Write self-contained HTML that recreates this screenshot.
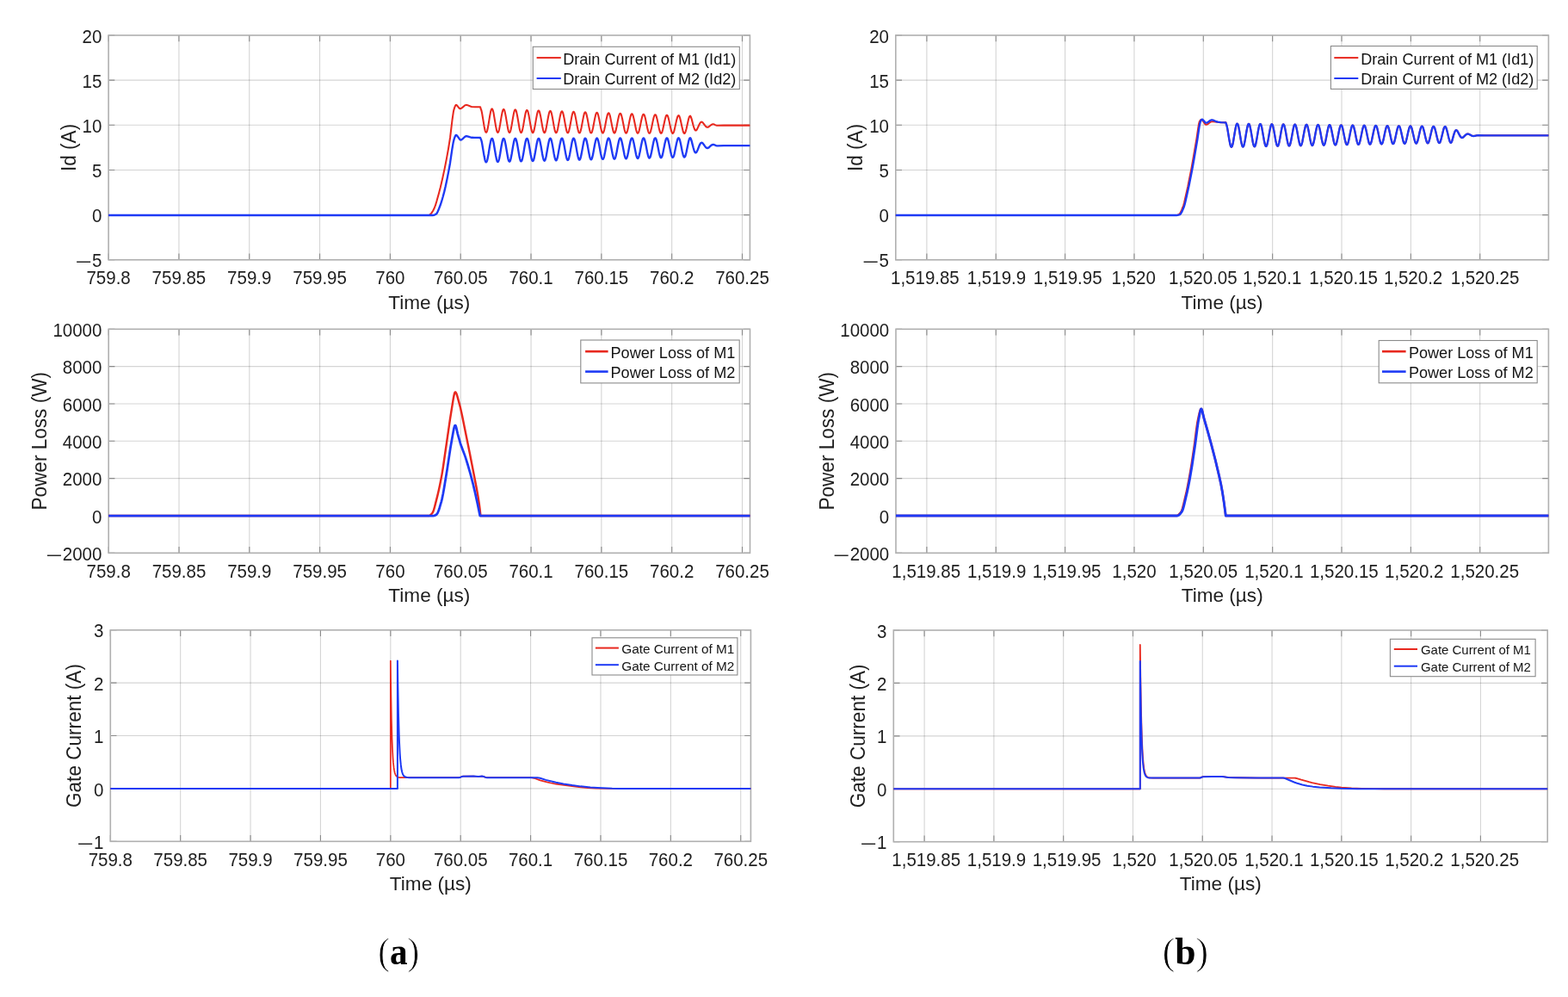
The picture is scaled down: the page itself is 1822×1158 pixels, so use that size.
<!DOCTYPE html>
<html><head><meta charset="utf-8"><title>Figure</title><style>html,body{margin:0;padding:0;background:#fff;width:1822px;height:1158px;overflow:hidden}svg{display:block}</style></head><body>
<svg width="1822" height="1158" viewBox="0 0 1822 1158" font-family='"Liberation Sans", Arial, Helvetica, sans-serif' fill="#1e1e1e">
<rect width="1822" height="1158" fill="#fff"/>
<path d="M207.92,41V301.8 M289.74,41V301.8 M371.56,41V301.8 M453.38,41V301.8 M535.2,41V301.8 M617.02,41V301.8 M698.84,41V301.8 M780.66,41V301.8 M862.48,41V301.8" stroke="#000" stroke-opacity="0.17" stroke-width="1.1" fill="none"/>
<path d="M126.1,93.16H871.4 M126.1,145.32H871.4 M126.1,197.48H871.4 M126.1,249.64H871.4" stroke="#000" stroke-opacity="0.17" stroke-width="1.1" fill="none"/>
<path d="M126.1,301.8v-7.2M126.1,41v7.2 M207.92,301.8v-7.2M207.92,41v7.2 M289.74,301.8v-7.2M289.74,41v7.2 M371.56,301.8v-7.2M371.56,41v7.2 M453.38,301.8v-7.2M453.38,41v7.2 M535.2,301.8v-7.2M535.2,41v7.2 M617.02,301.8v-7.2M617.02,41v7.2 M698.84,301.8v-7.2M698.84,41v7.2 M780.66,301.8v-7.2M780.66,41v7.2 M862.48,301.8v-7.2M862.48,41v7.2 M126.1,41h7.2M871.4,41h-7.2 M126.1,93.16h7.2M871.4,93.16h-7.2 M126.1,145.32h7.2M871.4,145.32h-7.2 M126.1,197.48h7.2M871.4,197.48h-7.2 M126.1,249.64h7.2M871.4,249.64h-7.2 M126.1,301.8h7.2M871.4,301.8h-7.2" stroke="#8a8a8a" stroke-width="1.1" fill="none"/>
<rect x="126.1" y="41" width="745.3" height="260.8" stroke="#b0b0b0" stroke-width="1.6" fill="none"/>
<text transform="translate(126.1,330.2) scale(1,1.05)" text-anchor="middle" font-size="20.5">759.8</text>
<text transform="translate(207.92,330.2) scale(1,1.05)" text-anchor="middle" font-size="20.5">759.85</text>
<text transform="translate(289.74,330.2) scale(1,1.05)" text-anchor="middle" font-size="20.5">759.9</text>
<text transform="translate(371.56,330.2) scale(1,1.05)" text-anchor="middle" font-size="20.5">759.95</text>
<text transform="translate(453.38,330.2) scale(1,1.05)" text-anchor="middle" font-size="20.5">760</text>
<text transform="translate(535.2,330.2) scale(1,1.05)" text-anchor="middle" font-size="20.5">760.05</text>
<text transform="translate(617.02,330.2) scale(1,1.05)" text-anchor="middle" font-size="20.5">760.1</text>
<text transform="translate(698.84,330.2) scale(1,1.05)" text-anchor="middle" font-size="20.5">760.15</text>
<text transform="translate(780.66,330.2) scale(1,1.05)" text-anchor="middle" font-size="20.5">760.2</text>
<text transform="translate(862.48,330.2) scale(1,1.05)" text-anchor="middle" font-size="20.5">760.25</text>
<text transform="translate(118.3,49.6) scale(1,1.05)" text-anchor="end" font-size="20.5">20</text>
<text transform="translate(118.3,101.76) scale(1,1.05)" text-anchor="end" font-size="20.5">15</text>
<text transform="translate(118.3,153.92) scale(1,1.05)" text-anchor="end" font-size="20.5">10</text>
<text transform="translate(118.3,206.08) scale(1,1.05)" text-anchor="end" font-size="20.5">5</text>
<text transform="translate(118.3,258.24) scale(1,1.05)" text-anchor="end" font-size="20.5">0</text>
<text transform="translate(118.3,310.4) scale(1,1.05)" text-anchor="end" font-size="20.5">5</text>
<text x="87.4" y="311.3" textLength="19.3" lengthAdjust="spacingAndGlyphs" font-size="20.5">−</text>
<text x="498.75" y="358.85" text-anchor="middle" font-size="22.6">Time (µs)</text>
<text transform="translate(87.6,171.4) rotate(-90) scale(1,1.02)" x="0" y="0" text-anchor="middle" font-size="22.6">Id (A)</text>
<svg x="126.1" y="41.0" width="745.3" height="260.8" viewBox="126.1 41.0 745.3 260.8" overflow="hidden">
<path d="M126.1,250 L497.8,250 498.3,249.89 499.05,249.57 500.05,248.96 501.3,247.66 503.05,244.94 504.8,241.51 506.05,238.13 507.3,234.06 510.05,224.24 511.8,217.45 514.3,206.76 516.8,195.09 519.05,183.65 521.05,172.52 523.05,159.91 525.55,139 526.8,130.31 527.3,127.88 528.3,124.67 529.05,122.8 529.55,122.07 529.8,121.91 530.3,121.98 530.8,122.3 531.55,123.07 533.55,125.58 534.05,125.98 534.55,126.19 535.3,126.11 536.3,125.64 537.3,124.89 539.8,122.73 540.8,122.13 541.55,121.92 542.3,121.93 543.3,122.16 546.55,123.55 548.05,123.97 551.8,124.19 558.1,124.2 558.6,126.28 559.1,127.36 559.6,129.11 560.1,131.44 562.6,146.7 563.6,151.45 564.1,152.95 564.6,153.76 565.1,153.84 565.6,153.18 566.1,151.82 566.6,149.83 567.6,144.42 569.1,135.04 570.1,129.86 570.6,128.04 571.1,126.87 571.6,126.41 572.1,126.68 572.6,127.68 573.1,129.35 573.6,131.59 576.1,146.59 577.1,151.36 577.6,152.91 578.1,153.78 578.6,153.93 579.1,153.35 579.6,152.08 580.1,150.17 581.1,144.93 582.6,135.68 583.6,130.5 584.1,128.65 584.6,127.43 585.1,126.9 585.6,127.1 586.1,128.02 586.6,129.59 587.6,134.37 590.1,149.12 590.6,151.28 591.1,152.87 591.6,153.8 592.1,154.02 592.6,153.52 593.1,152.32 593.6,150.51 594.6,145.42 596.1,136.32 597.1,131.14 597.6,129.26 598.1,127.99 598.6,127.4 599.1,127.53 599.6,128.36 600.1,129.85 601.1,134.46 603.6,149.02 604.1,151.2 604.6,152.82 605.1,153.8 605.6,154.09 606.1,153.67 606.6,152.56 607.1,150.83 608.1,145.9 609.6,136.95 610.6,131.78 611.1,129.87 611.6,128.56 612.1,127.91 612.6,127.96 613.1,128.71 613.6,130.12 614.6,134.57 616.6,146.3 617.6,151.12 618.1,152.78 618.6,153.81 619.1,154.16 619.6,153.81 620.1,152.79 620.6,151.14 621.6,146.37 623.1,137.57 624.1,132.41 624.6,130.48 625.1,129.13 625.6,128.43 626.1,128.41 626.6,129.08 627.1,130.4 628.1,134.69 630.1,146.22 631.1,151.04 631.6,152.73 632.1,153.81 632.6,154.22 633.1,153.95 633.6,153.01 634.1,151.44 634.6,149.35 637.1,135.45 638.1,131.1 638.6,129.7 639.1,128.94 639.6,128.86 640.1,129.45 640.6,130.69 641.1,132.51 642.1,137.47 643.6,146.14 644.6,150.96 645.1,152.67 645.6,153.8 646.1,154.27 646.6,154.07 647.1,153.21 647.6,151.73 648.1,149.72 650.6,136.08 651.6,131.71 652.1,130.28 652.6,129.47 653.1,129.32 653.6,129.84 654.1,131 654.6,132.73 655.6,137.54 657.1,146.07 658.1,150.88 658.6,152.62 659.1,153.79 659.6,154.32 660.1,154.19 660.6,153.41 661.1,152.01 662.1,147.72 664.6,134.3 665.1,132.32 665.6,130.86 666.1,130 666.6,129.79 667.1,130.23 667.6,131.31 668.1,132.96 669.1,137.62 670.6,146 671.6,150.8 672.1,152.57 672.6,153.78 673.1,154.36 673.6,154.3 674.1,153.59 674.6,152.28 675.6,148.14 678.1,134.93 678.6,132.93 679.1,131.44 679.6,130.53 680.1,130.26 680.6,130.63 681.1,131.63 681.6,133.21 682.6,137.71 684.1,145.94 685.1,150.73 685.6,152.51 686.1,153.76 686.6,154.4 687.1,154.4 687.6,153.77 688.1,152.53 689.1,148.55 691.1,137.93 692.1,133.54 692.6,132.02 693.1,131.07 693.6,130.74 694.1,131.04 694.6,131.97 695.1,133.46 696.1,137.81 698.1,148.43 699.1,152.46 699.6,153.74 700.1,154.43 700.6,154.5 701.1,153.94 701.6,152.78 702.1,151.09 703.1,146.5 704.6,138.54 705.6,134.15 706.1,132.61 706.6,131.61 707.1,131.23 707.6,131.46 708.1,132.31 708.6,133.73 709.1,135.63 711.6,148.36 712.6,152.41 713.1,153.72 713.6,154.46 714.1,154.58 714.6,154.09 715.1,153.01 715.6,151.4 716.6,146.96 718.1,139.13 719.1,134.76 719.6,133.19 720.1,132.16 720.6,131.72 721.1,131.89 721.6,132.66 722.1,134 723.1,138.05 725.6,150.52 726.1,152.35 726.6,153.7 727.1,154.48 727.6,154.66 728.1,154.24 728.6,153.24 729.1,151.7 730.1,147.41 731.6,139.73 732.6,135.36 733.1,133.78 733.6,132.71 734.1,132.22 734.6,132.32 735.1,133.03 735.6,134.29 736.6,138.18 739.1,150.46 739.6,152.3 740.1,153.67 740.6,154.5 741.1,154.74 741.6,154.38 742.1,153.45 742.6,151.99 743.6,147.85 745.1,140.31 746.1,135.96 746.6,134.36 747.1,133.26 747.6,132.72 748.1,132.77 748.6,133.4 749.1,134.58 750.1,138.33 752.1,148.2 753.1,152.25 753.6,153.64 754.1,154.51 754.6,154.81 755.1,154.52 755.6,153.66 756.1,152.28 757.1,148.27 758.6,140.89 759.6,136.56 760.1,134.95 760.6,133.81 761.1,133.23 761.6,133.22 762.1,133.78 762.6,134.89 763.6,138.49 765.6,148.16 766.6,152.2 767.1,153.62 767.6,154.52 768.1,154.87 768.6,154.64 769.1,153.85 769.6,152.54 770.1,150.79 772.6,139.17 773.6,135.53 774.1,134.37 774.6,133.74 775.1,133.67 775.6,134.17 776.1,135.21 776.6,136.73 777.6,140.88 779.1,148.13 780.1,152.15 780.6,153.59 781.1,154.53 781.6,154.92 782.1,154.76 782.6,154.04 783.1,152.8 783.6,151.13 786.1,139.76 787.1,136.12 787.6,134.93 788.1,134.26 788.6,134.13 789.1,134.57 789.6,135.54 790.1,136.99 791.1,141 792.6,148.1 793.6,152.11 794.1,153.56 794.6,154.53 795.1,154.97 795.6,154.87 796.1,154.21 796.6,153.05 797.6,149.48 800.1,138.34 800.6,136.7 801.1,135.49 801.6,134.78 802.1,134.6 802.6,135.28 803.1,136.5 803.6,138.07 805.6,145.73 806.6,148.94 807.1,150.1 807.6,150.92 808.1,151.38 808.6,151.47 809.1,151.23 809.6,150.69 810.1,149.89 812.6,144.45 813.6,142.72 814.1,142.14 814.6,141.77 815.1,141.62 815.6,141.69 816.1,141.94 816.6,142.36 817.6,143.56 819.1,145.66 820.1,146.82 821.1,147.56 821.6,147.73 822.1,147.78 822.6,147.7 823.6,147.23 826.1,145.27 827.1,144.63 828.1,144.27 828.6,144.21 829.1,144.22 829.6,144.39 831.1,145.11 832.1,145.48 833.1,145.71 834.1,145.81 841.1,145.57 871.1,145.6" stroke="#e8281e" stroke-width="2.05" fill="none" stroke-linejoin="round" stroke-linecap="round"/>
<path d="M126.1,250 L503,250 504,249.88 505.5,249.33 507,248.45 507.5,247.9 508.25,246.64 509.5,243.81 511.75,238.04 513.25,233.46 514.75,228.29 516.25,222.63 517.75,216.26 519.5,207.95 521.5,197.68 523,189.43 525.5,172.43 526.75,165.16 527.5,162.11 528.5,159.15 529.25,157.46 529.75,156.93 530.25,156.97 531,157.5 531.75,158.42 534,161.68 534.75,162.34 535.25,162.5 536,162.36 536.75,161.95 537.5,161.36 540,159.01 540.75,158.5 541.5,158.23 542.25,158.22 543.25,158.39 546.5,159.46 548,159.78 551.5,159.89 558.1,159.9 558.6,161.27 559.1,162.32 559.6,164.04 560.1,166.33 562.6,181.34 563.6,186.01 564.1,187.48 564.6,188.27 565.1,188.34 565.6,187.67 566.1,186.3 566.6,184.31 567.6,178.92 569.1,169.56 570.1,164.39 570.6,162.57 571.1,161.38 571.6,160.91 572.1,161.16 572.6,162.13 573.1,163.77 573.6,165.98 576.1,180.8 577.1,185.51 577.6,187.04 578.1,187.89 578.6,188.02 579.1,187.43 579.6,186.14 580.1,184.23 581.1,178.98 582.6,169.72 583.6,164.53 584.1,162.66 584.6,161.42 585.1,160.88 585.6,161.06 586.1,161.95 586.6,163.51 587.6,168.24 590.1,182.87 590.6,185.02 591.1,186.59 591.6,187.5 592.1,187.7 592.6,187.19 593.1,185.98 593.6,184.15 594.6,179.03 596.1,169.87 597.1,164.66 597.6,162.76 598.1,161.47 598.6,160.86 599.1,160.97 599.6,161.78 600.1,163.26 601.1,167.84 603.6,182.34 604.1,184.52 604.6,186.13 605.1,187.1 605.6,187.37 606.1,186.93 606.6,185.81 607.1,184.05 608.1,179.07 609.6,170.02 610.6,164.79 611.1,162.86 611.6,161.52 612.1,160.85 612.6,160.88 613.1,161.62 613.6,163.01 614.6,167.45 616.6,179.2 617.6,184.02 618.1,185.67 618.6,186.7 619.1,187.03 619.6,186.67 620.1,185.62 620.6,183.95 621.6,179.11 623.6,167.37 624.6,162.96 625.1,161.57 625.6,160.84 626.1,160.81 626.6,161.46 627.1,162.78 627.6,164.69 628.6,169.82 630.1,178.67 631.1,183.52 631.6,185.21 632.1,186.29 632.6,186.69 633.1,186.4 633.6,185.43 634.1,183.83 634.6,181.69 637.1,167.52 638.1,163.06 638.6,161.63 639.1,160.84 639.6,160.74 640.1,161.32 640.6,162.56 641.1,164.39 642.1,169.39 643.6,178.15 644.6,183.01 645.1,184.74 645.6,185.87 646.1,186.34 646.6,186.12 647.1,185.23 647.6,183.71 648.1,181.64 650.6,167.66 651.6,163.17 652.1,161.69 652.6,160.85 653.1,160.67 653.6,161.18 654.1,162.35 654.6,164.1 655.6,168.97 657.1,177.62 658.1,182.51 658.6,184.28 659.1,185.46 659.6,185.98 660.1,185.84 660.6,185.02 661.1,183.57 662.1,179.15 664.6,165.33 665.1,163.27 665.6,161.76 666.1,160.86 666.6,160.62 667.1,161.06 667.6,162.14 668.1,163.82 669.1,168.56 670.6,177.11 671.6,182.01 672.1,183.81 672.6,185.03 673.1,185.62 673.6,185.54 674.1,184.8 674.6,183.43 675.6,179.14 678.1,165.46 678.6,163.38 679.1,161.83 679.6,160.87 680.1,160.57 680.6,160.94 681.1,161.95 681.6,163.55 682.6,168.16 684.1,176.6 685.1,181.51 685.6,183.33 686.1,184.61 686.6,185.25 687.1,185.24 687.6,184.57 688.1,183.28 689.1,179.13 691.1,168.07 692.1,163.49 692.6,161.9 693.1,160.89 693.6,160.53 694.1,160.83 694.6,161.76 695.1,163.29 696.1,167.76 698.1,178.71 699.1,182.86 699.6,184.17 700.1,184.88 700.6,184.93 701.1,184.33 701.6,183.11 702.1,181.34 703.1,176.54 704.6,168.2 705.6,163.6 706.1,161.97 706.6,160.92 707.1,160.5 707.6,160.72 708.1,161.59 708.6,163.04 709.1,165.01 711.6,178.2 712.6,182.39 713.1,183.74 713.6,184.5 714.1,184.61 714.6,184.09 715.1,182.94 715.6,181.24 716.6,176.56 718.1,168.33 719.1,163.71 719.6,162.05 720.1,160.95 720.6,160.47 721.1,160.63 721.6,161.42 722.1,162.8 723.1,167 725.6,180 726.1,181.91 726.6,183.3 727.1,184.11 727.6,184.29 728.1,183.83 728.6,182.76 729.1,181.13 730.1,176.58 731.6,168.45 732.6,163.82 733.1,162.13 733.6,160.99 734.1,160.45 734.6,160.54 735.1,161.26 735.6,162.57 736.6,166.64 739.1,179.5 739.6,181.43 740.1,182.86 740.6,183.72 741.1,183.96 741.6,183.57 742.1,182.57 742.6,181.01 743.6,176.59 745.1,168.57 746.1,163.93 746.6,162.21 747.1,161.02 747.6,160.43 748.1,160.46 748.6,161.11 749.1,162.35 750.1,166.28 752.1,176.69 753.1,180.95 753.6,182.42 754.1,183.32 754.6,183.62 755.1,183.3 755.6,182.37 756.1,180.88 757.1,176.59 758.6,168.68 759.6,164.04 760.1,162.29 760.6,161.07 761.1,160.42 761.6,160.39 762.1,160.97 762.6,162.13 763.6,165.93 765.6,176.19 766.6,180.47 767.1,181.97 767.6,182.92 768.1,183.28 768.6,183.02 769.1,182.16 769.6,180.75 770.1,178.86 772.6,166.32 773.6,162.38 774.1,161.11 774.6,160.41 775.1,160.32 775.6,160.83 776.1,161.93 776.6,163.55 777.6,167.97 779.1,175.7 780.1,180 780.6,181.52 781.1,182.52 781.6,182.93 782.1,182.74 782.6,181.94 783.1,180.6 783.6,178.78 786.1,166.43 787.1,162.46 787.6,161.16 788.1,160.41 788.6,160.26 789.1,160.71 789.6,161.73 790.1,163.28 791.1,167.58 792.6,175.21 793.6,179.52 794.1,181.07 794.6,182.11 795.1,182.58 795.6,182.44 796.1,181.72 796.6,180.45 797.6,176.54 800.1,164.36 800.6,162.55 801.1,161.21 801.6,160.42 802.1,160.21 802.6,160.84 803.1,162.03 803.6,163.62 805.6,171.53 806.6,174.84 807.1,176.02 807.6,176.83 808.1,177.25 808.6,177.28 809.1,176.94 809.6,176.27 810.6,174.21 812.1,170.31 813.1,168 814.1,166.41 814.6,165.96 815.1,165.75 815.6,165.77 816.1,166.01 816.6,166.43 817.6,167.67 819.1,169.87 820.1,171.09 821.1,171.84 821.6,172.01 822.1,172.04 823.1,171.7 824.1,170.96 826.6,168.71 827.6,168.12 828.6,167.87 829.1,167.87 829.6,168.02 832.1,169.08 833.1,169.31 834.1,169.39 841.1,169.07 871.1,169.1" stroke="#1e3af5" stroke-width="2.35" fill="none" stroke-linejoin="round" stroke-linecap="round"/>
</svg>
<rect x="619.3" y="54.3" width="240" height="49.2" fill="#fff" stroke="#8a8a8a" stroke-width="1.1"/>
<path d="M623.6,67.1H651.8" stroke="#e8281e" stroke-width="2.0" fill="none"/>
<text x="654.2" y="74.52" font-size="18.1" fill="#141414">Drain Current of M1 (Id1)</text>
<path d="M623.6,91H651.8" stroke="#1e3af5" stroke-width="2.0" fill="none"/>
<text x="654.2" y="98.42" font-size="18.1" fill="#141414">Drain Current of M2 (Id2)</text>
<path d="M208.01,382.3V642.3 M289.82,382.3V642.3 M371.63,382.3V642.3 M453.44,382.3V642.3 M535.25,382.3V642.3 M617.06,382.3V642.3 M698.87,382.3V642.3 M780.68,382.3V642.3 M862.49,382.3V642.3" stroke="#000" stroke-opacity="0.17" stroke-width="1.1" fill="none"/>
<path d="M126.2,425.63H871.5 M126.2,468.97H871.5 M126.2,512.3H871.5 M126.2,555.63H871.5 M126.2,598.97H871.5" stroke="#000" stroke-opacity="0.17" stroke-width="1.1" fill="none"/>
<path d="M126.2,642.3v-7.2M126.2,382.3v7.2 M208.01,642.3v-7.2M208.01,382.3v7.2 M289.82,642.3v-7.2M289.82,382.3v7.2 M371.63,642.3v-7.2M371.63,382.3v7.2 M453.44,642.3v-7.2M453.44,382.3v7.2 M535.25,642.3v-7.2M535.25,382.3v7.2 M617.06,642.3v-7.2M617.06,382.3v7.2 M698.87,642.3v-7.2M698.87,382.3v7.2 M780.68,642.3v-7.2M780.68,382.3v7.2 M862.49,642.3v-7.2M862.49,382.3v7.2 M126.2,382.3h7.2M871.5,382.3h-7.2 M126.2,425.63h7.2M871.5,425.63h-7.2 M126.2,468.97h7.2M871.5,468.97h-7.2 M126.2,512.3h7.2M871.5,512.3h-7.2 M126.2,555.63h7.2M871.5,555.63h-7.2 M126.2,598.97h7.2M871.5,598.97h-7.2 M126.2,642.3h7.2M871.5,642.3h-7.2" stroke="#8a8a8a" stroke-width="1.1" fill="none"/>
<rect x="126.2" y="382.3" width="745.3" height="260" stroke="#b0b0b0" stroke-width="1.6" fill="none"/>
<text transform="translate(126.2,670.7) scale(1,1.05)" text-anchor="middle" font-size="20.5">759.8</text>
<text transform="translate(208.01,670.7) scale(1,1.05)" text-anchor="middle" font-size="20.5">759.85</text>
<text transform="translate(289.82,670.7) scale(1,1.05)" text-anchor="middle" font-size="20.5">759.9</text>
<text transform="translate(371.63,670.7) scale(1,1.05)" text-anchor="middle" font-size="20.5">759.95</text>
<text transform="translate(453.44,670.7) scale(1,1.05)" text-anchor="middle" font-size="20.5">760</text>
<text transform="translate(535.25,670.7) scale(1,1.05)" text-anchor="middle" font-size="20.5">760.05</text>
<text transform="translate(617.06,670.7) scale(1,1.05)" text-anchor="middle" font-size="20.5">760.1</text>
<text transform="translate(698.87,670.7) scale(1,1.05)" text-anchor="middle" font-size="20.5">760.15</text>
<text transform="translate(780.68,670.7) scale(1,1.05)" text-anchor="middle" font-size="20.5">760.2</text>
<text transform="translate(862.49,670.7) scale(1,1.05)" text-anchor="middle" font-size="20.5">760.25</text>
<text transform="translate(118.4,390.9) scale(1,1.05)" text-anchor="end" font-size="20.5">10000</text>
<text transform="translate(118.4,434.23) scale(1,1.05)" text-anchor="end" font-size="20.5">8000</text>
<text transform="translate(118.4,477.57) scale(1,1.05)" text-anchor="end" font-size="20.5">6000</text>
<text transform="translate(118.4,520.9) scale(1,1.05)" text-anchor="end" font-size="20.5">4000</text>
<text transform="translate(118.4,564.23) scale(1,1.05)" text-anchor="end" font-size="20.5">2000</text>
<text transform="translate(118.4,607.57) scale(1,1.05)" text-anchor="end" font-size="20.5">0</text>
<text transform="translate(118.4,650.9) scale(1,1.05)" text-anchor="end" font-size="20.5">2000</text>
<text x="53.3" y="651.8" textLength="19.3" lengthAdjust="spacingAndGlyphs" font-size="20.5">−</text>
<text x="498.85" y="699.15" text-anchor="middle" font-size="22.6">Time (µs)</text>
<text transform="translate(53.9,512.3) rotate(-90) scale(1,1.02)" x="0" y="0" text-anchor="middle" font-size="22.6">Power Loss (W)</text>
<svg x="126.2" y="382.3" width="745.3" height="259.99999999999994" viewBox="126.2 382.3 745.3 259.99999999999994" overflow="hidden">
<path d="M126.2,599 L498.5,599 499.25,598.85 500,598.43 500.75,597.79 502.5,595.73 503.25,594.43 504,592.4 505,588.91 508.25,576.1 509.75,569.77 511.25,562.86 513.25,552.59 514.75,543.57 523,486.67 526.75,463.26 527.5,459.25 528,457.22 528.5,455.88 528.75,455.52 529,455.4 529.5,455.66 530.25,456.9 530.75,458.18 531.5,460.59 534.75,472.61 537,482.79 546,527.19 554,568.25 555.5,576.88 556.75,585.04 557.5,590.77 558.4,599 871.5,599" stroke="#e8281e" stroke-width="2.45" fill="none" stroke-linejoin="round" stroke-linecap="round"/>
<path d="M126.2,599 L504.1,599 504.85,598.9 506.1,598.36 507.35,597.51 508.1,596.5 508.85,595.04 509.85,592.5 510.85,589.46 512.85,582.58 513.6,579.65 514.85,573.59 516.1,566.5 519.6,545.2 523.35,520.5 526.6,501.95 527.35,498.14 527.85,496.14 528.35,494.72 528.6,494.28 528.85,494.04 529.1,494.02 529.35,494.27 529.6,494.76 530.1,496.33 531.85,504.04 534.85,514.74 536.35,519.1 539.35,526.89 540.85,531.15 543.85,540.78 546.6,550.44 549.6,561.9 552.1,572.36 554.85,584.94 557.7,599 871.5,599" stroke="#1e3af5" stroke-width="2.75" fill="none" stroke-linejoin="round" stroke-linecap="round"/>
</svg>
<rect x="674.8" y="395" width="184.4" height="49.9" fill="#fff" stroke="#8a8a8a" stroke-width="1.1"/>
<path d="M680.1,408.2H706.6" stroke="#e8281e" stroke-width="2.6" fill="none"/>
<text x="709.5" y="415.62" font-size="18.1" fill="#141414">Power Loss of M1</text>
<path d="M680.1,431.6H706.6" stroke="#1e3af5" stroke-width="2.6" fill="none"/>
<text x="709.5" y="439.02" font-size="18.1" fill="#141414">Power Loss of M2</text>
<path d="M209.68,731.8V977.3 M291.06,731.8V977.3 M372.44,731.8V977.3 M453.82,731.8V977.3 M535.2,731.8V977.3 M616.58,731.8V977.3 M697.96,731.8V977.3 M779.34,731.8V977.3 M860.72,731.8V977.3" stroke="#000" stroke-opacity="0.17" stroke-width="1.1" fill="none"/>
<path d="M128.3,793.17H872.4 M128.3,854.55H872.4 M128.3,915.92H872.4" stroke="#000" stroke-opacity="0.17" stroke-width="1.1" fill="none"/>
<path d="M128.3,977.3v-7.2M128.3,731.8v7.2 M209.68,977.3v-7.2M209.68,731.8v7.2 M291.06,977.3v-7.2M291.06,731.8v7.2 M372.44,977.3v-7.2M372.44,731.8v7.2 M453.82,977.3v-7.2M453.82,731.8v7.2 M535.2,977.3v-7.2M535.2,731.8v7.2 M616.58,977.3v-7.2M616.58,731.8v7.2 M697.96,977.3v-7.2M697.96,731.8v7.2 M779.34,977.3v-7.2M779.34,731.8v7.2 M860.72,977.3v-7.2M860.72,731.8v7.2 M128.3,731.8h7.2M872.4,731.8h-7.2 M128.3,793.17h7.2M872.4,793.17h-7.2 M128.3,854.55h7.2M872.4,854.55h-7.2 M128.3,915.92h7.2M872.4,915.92h-7.2 M128.3,977.3h7.2M872.4,977.3h-7.2" stroke="#8a8a8a" stroke-width="1.1" fill="none"/>
<rect x="128.3" y="731.8" width="744.1" height="245.5" stroke="#b0b0b0" stroke-width="1.6" fill="none"/>
<text transform="translate(128.3,1005.7) scale(1,1.05)" text-anchor="middle" font-size="20.5">759.8</text>
<text transform="translate(209.68,1005.7) scale(1,1.05)" text-anchor="middle" font-size="20.5">759.85</text>
<text transform="translate(291.06,1005.7) scale(1,1.05)" text-anchor="middle" font-size="20.5">759.9</text>
<text transform="translate(372.44,1005.7) scale(1,1.05)" text-anchor="middle" font-size="20.5">759.95</text>
<text transform="translate(453.82,1005.7) scale(1,1.05)" text-anchor="middle" font-size="20.5">760</text>
<text transform="translate(535.2,1005.7) scale(1,1.05)" text-anchor="middle" font-size="20.5">760.05</text>
<text transform="translate(616.58,1005.7) scale(1,1.05)" text-anchor="middle" font-size="20.5">760.1</text>
<text transform="translate(697.96,1005.7) scale(1,1.05)" text-anchor="middle" font-size="20.5">760.15</text>
<text transform="translate(779.34,1005.7) scale(1,1.05)" text-anchor="middle" font-size="20.5">760.2</text>
<text transform="translate(860.72,1005.7) scale(1,1.05)" text-anchor="middle" font-size="20.5">760.25</text>
<text transform="translate(120.5,740.4) scale(1,1.05)" text-anchor="end" font-size="20.5">3</text>
<text transform="translate(120.5,801.77) scale(1,1.05)" text-anchor="end" font-size="20.5">2</text>
<text transform="translate(120.5,863.15) scale(1,1.05)" text-anchor="end" font-size="20.5">1</text>
<text transform="translate(120.5,924.52) scale(1,1.05)" text-anchor="end" font-size="20.5">0</text>
<text transform="translate(120.5,985.9) scale(1,1.05)" text-anchor="end" font-size="20.5">1</text>
<text x="89.6" y="986.8" textLength="19.3" lengthAdjust="spacingAndGlyphs" font-size="20.5">−</text>
<text x="500.35" y="1034.15" text-anchor="middle" font-size="22.6">Time (µs)</text>
<text transform="translate(94.25,854.55) rotate(-90) scale(1,1.02)" x="0" y="0" text-anchor="middle" font-size="22.6">Gate Current (A)</text>
<svg x="128.3" y="731.8" width="744.0999999999999" height="245.5" viewBox="128.3 731.8 744.0999999999999 245.5" overflow="hidden">
<path d="M128.3,915.92 L453.8,915.92 453.8,767.5 454.15,794.93 454.85,834.27 455.55,859.32 455.9,868.19 456.6,880.91 456.95,885.42 457.65,891.88 458,894.17 458.7,897.45 459.4,899.54 460.1,900.87 461.15,902.02 462.2,902.6 463.25,902.89 464.3,903.04 467.45,903.18 533.25,903.2 534.25,903.05 537,901.91 538,901.7 550.25,901.6 556,902 560,901.6 561.25,901.79 564.25,902.89 565.75,903.2 617.25,903.22 618.75,903.4 620.5,903.81 627.75,906.33 635.5,908.41 640.25,909.51 646,910.54 664.75,913.21 672.75,914.21 683,915.03 692.75,915.54 706.5,915.82 718.5,915.92 872.4,915.92" stroke="#e8281e" stroke-width="1.7" fill="none" stroke-linejoin="round" stroke-linecap="round"/>
<path d="M128.3,915.92 L461.9,915.92 461.9,767.5 462.25,792.1 462.95,828.73 463.65,853.28 464,862.33 464.7,875.8 465.05,880.77 465.75,888.16 466.45,893.12 467.15,896.44 467.85,898.67 468.2,899.49 468.9,900.71 469.95,901.84 470.65,902.29 471.35,902.59 473.1,902.97 476,903.2 533.25,903.2 534.25,903.05 537,901.91 538,901.7 550.25,901.6 556,902 560,901.6 561.25,901.79 564.25,902.89 565.75,903.2 624.5,903.22 626,903.41 627.5,903.74 634.25,905.88 646,908.83 654.75,910.52 664.75,912.08 674.75,913.37 686,914.41 694.25,914.96 711.25,915.77 719.75,915.92 872.4,915.92" stroke="#1e3af5" stroke-width="2.0" fill="none" stroke-linejoin="round" stroke-linecap="round"/>
</svg>
<rect x="688" y="740.8" width="168.9" height="43.2" fill="#fff" stroke="#8a8a8a" stroke-width="1.1"/>
<path d="M691.9,752.6H718.9" stroke="#e8281e" stroke-width="2.0" fill="none"/>
<text x="722.3" y="759.01" font-size="15.3" fill="#141414">Gate Current of M1</text>
<path d="M691.9,772.2H718.9" stroke="#1e3af5" stroke-width="2.0" fill="none"/>
<text x="722.3" y="778.61" font-size="15.3" fill="#141414">Gate Current of M2</text>
<path d="M1076.9,41V301.8 M1157.25,41V301.8 M1237.6,41V301.8 M1317.95,41V301.8 M1398.3,41V301.8 M1478.65,41V301.8 M1559,41V301.8 M1639.35,41V301.8 M1719.7,41V301.8" stroke="#000" stroke-opacity="0.17" stroke-width="1.1" fill="none"/>
<path d="M1040.8,93.16H1799.4 M1040.8,145.32H1799.4 M1040.8,197.48H1799.4 M1040.8,249.64H1799.4" stroke="#000" stroke-opacity="0.17" stroke-width="1.1" fill="none"/>
<path d="M1076.9,301.8v-7.2M1076.9,41v7.2 M1157.25,301.8v-7.2M1157.25,41v7.2 M1237.6,301.8v-7.2M1237.6,41v7.2 M1317.95,301.8v-7.2M1317.95,41v7.2 M1398.3,301.8v-7.2M1398.3,41v7.2 M1478.65,301.8v-7.2M1478.65,41v7.2 M1559,301.8v-7.2M1559,41v7.2 M1639.35,301.8v-7.2M1639.35,41v7.2 M1719.7,301.8v-7.2M1719.7,41v7.2 M1040.8,41h7.2M1799.4,41h-7.2 M1040.8,93.16h7.2M1799.4,93.16h-7.2 M1040.8,145.32h7.2M1799.4,145.32h-7.2 M1040.8,197.48h7.2M1799.4,197.48h-7.2 M1040.8,249.64h7.2M1799.4,249.64h-7.2 M1040.8,301.8h7.2M1799.4,301.8h-7.2" stroke="#8a8a8a" stroke-width="1.1" fill="none"/>
<rect x="1040.8" y="41" width="758.6" height="260.8" stroke="#b0b0b0" stroke-width="1.6" fill="none"/>
<text transform="translate(1074.9,330.2) scale(1,1.05)" text-anchor="middle" font-size="20.5">1,519.85</text>
<text transform="translate(1157.95,330.2) scale(1,1.05)" text-anchor="middle" font-size="20.5">1,519.9</text>
<text transform="translate(1240.7,330.2) scale(1,1.05)" text-anchor="middle" font-size="20.5">1,519.95</text>
<text transform="translate(1317.25,330.2) scale(1,1.05)" text-anchor="middle" font-size="20.5">1,520</text>
<text transform="translate(1397.75,330.2) scale(1,1.05)" text-anchor="middle" font-size="20.5">1,520.05</text>
<text transform="translate(1478.1,330.2) scale(1,1.05)" text-anchor="middle" font-size="20.5">1,520.1</text>
<text transform="translate(1561,330.2) scale(1,1.05)" text-anchor="middle" font-size="20.5">1,520.15</text>
<text transform="translate(1642.05,330.2) scale(1,1.05)" text-anchor="middle" font-size="20.5">1,520.2</text>
<text transform="translate(1725.5,330.2) scale(1,1.05)" text-anchor="middle" font-size="20.5">1,520.25</text>
<text transform="translate(1033,49.6) scale(1,1.05)" text-anchor="end" font-size="20.5">20</text>
<text transform="translate(1033,101.76) scale(1,1.05)" text-anchor="end" font-size="20.5">15</text>
<text transform="translate(1033,153.92) scale(1,1.05)" text-anchor="end" font-size="20.5">10</text>
<text transform="translate(1033,206.08) scale(1,1.05)" text-anchor="end" font-size="20.5">5</text>
<text transform="translate(1033,258.24) scale(1,1.05)" text-anchor="end" font-size="20.5">0</text>
<text transform="translate(1033,310.4) scale(1,1.05)" text-anchor="end" font-size="20.5">5</text>
<text x="1002.1" y="311.3" textLength="19.3" lengthAdjust="spacingAndGlyphs" font-size="20.5">−</text>
<text x="1420.1" y="358.85" text-anchor="middle" font-size="22.6">Time (µs)</text>
<text transform="translate(1002.45,171.4) rotate(-90) scale(1,1.02)" x="0" y="0" text-anchor="middle" font-size="22.6">Id (A)</text>
<svg x="1040.8" y="41.0" width="758.6000000000001" height="260.8" viewBox="1040.8 41.0 758.6000000000001 260.8" overflow="hidden">
<path d="M1040.8,250 L1366,250 1367,249.92 1368.25,249.63 1369.75,249.08 1370.25,248.75 1371,247.9 1371.75,246.71 1373,244.13 1374.5,240.5 1375.25,238.28 1376,235.51 1380.25,216.71 1384.5,195.21 1386.5,184.04 1390.5,160.6 1392.25,148.55 1393,144.12 1393.75,141.3 1394.75,139.72 1395.25,139.18 1395.75,138.92 1396.25,138.97 1397,139.49 1397.75,140.41 1400,143.76 1400.75,144.51 1401.5,144.8 1402.25,144.67 1403,144.34 1406.5,141.78 1407.25,141.4 1408,141.21 1410,141.3 1418.25,142.18 1421.5,142.17 1424.3,142 1424.8,143.97 1425.3,145.24 1425.8,147.15 1426.3,149.61 1428.3,161.9 1429.3,167.17 1429.8,169.05 1430.3,170.28 1430.8,170.79 1431.3,170.55 1431.8,169.59 1432.3,167.95 1432.8,165.72 1435.3,150.76 1436.3,146.05 1436.8,144.55 1437.3,143.74 1437.8,143.65 1438.3,144.31 1438.8,145.66 1439.3,147.63 1440.3,152.99 1441.8,162.25 1442.8,167.3 1443.3,169.05 1443.8,170.15 1444.3,170.54 1444.8,170.19 1445.3,169.13 1445.8,167.42 1446.8,162.44 1448.3,153.25 1449.3,147.9 1449.8,145.92 1450.3,144.55 1450.8,143.86 1451.3,143.9 1451.8,144.65 1452.3,146.09 1453.3,150.63 1455.8,165.22 1456.3,167.41 1456.8,169.03 1457.3,170 1457.8,170.27 1458.3,169.81 1458.8,168.66 1459.3,166.88 1460.3,161.85 1461.8,152.81 1462.8,147.68 1463.3,145.81 1463.8,144.57 1464.3,144.01 1464.8,144.16 1465.3,145.01 1465.8,146.52 1466.3,148.6 1468.8,162.89 1469.8,167.49 1470.3,168.99 1470.8,169.83 1471.3,169.98 1471.8,169.42 1472.3,168.19 1472.8,166.35 1473.8,161.28 1475.3,152.39 1476.3,147.47 1476.8,145.73 1477.3,144.61 1477.8,144.17 1478.3,144.43 1478.8,145.38 1479.3,146.96 1480.3,151.64 1482.3,163.17 1483.3,167.55 1483.8,168.92 1484.3,169.64 1484.8,169.67 1485.3,169.02 1485.8,167.7 1486.3,165.81 1487.3,160.72 1488.8,152 1489.8,147.29 1490.3,145.68 1490.8,144.68 1491.3,144.36 1491.8,144.72 1492.3,145.76 1492.8,147.4 1493.8,152.13 1495.3,160.77 1496.3,165.75 1496.8,167.58 1497.3,168.83 1497.8,169.43 1498.3,169.35 1498.8,168.6 1499.3,167.21 1500.3,162.88 1502.8,149.17 1503.3,147.14 1503.8,145.64 1504.3,144.77 1504.8,144.56 1505.3,145.03 1505.8,146.14 1506.3,147.84 1507.3,152.61 1508.8,161.1 1509.8,165.87 1510.3,167.59 1510.8,168.72 1511.3,169.2 1511.8,169.02 1512.3,168.17 1512.8,166.72 1513.3,164.73 1515.8,151.28 1516.8,147.01 1517.3,145.63 1517.8,144.88 1518.3,144.78 1518.8,145.34 1519.3,146.53 1519.8,148.29 1520.8,153.08 1522.3,161.41 1523.3,165.98 1523.8,167.57 1524.3,168.58 1524.8,168.95 1525.3,168.67 1525.8,167.74 1526.3,166.22 1527.3,161.78 1528.8,153.53 1529.8,148.7 1530.3,146.9 1530.8,145.65 1531.3,145.01 1531.8,145.01 1532.3,145.67 1532.8,146.93 1533.8,150.98 1535.8,161.7 1536.8,166.06 1537.3,167.53 1537.8,168.43 1538.3,168.69 1538.8,168.31 1539.3,167.3 1539.8,165.72 1540.8,161.24 1542.3,153.14 1543.3,148.51 1543.8,146.82 1544.3,145.68 1544.8,145.15 1545.3,145.26 1545.8,146 1546.3,147.33 1547.3,151.44 1549.8,164.24 1550.3,166.11 1550.8,167.47 1551.3,168.25 1551.8,168.41 1552.3,167.93 1552.8,166.85 1553.3,165.22 1554.3,160.71 1555.8,152.76 1556.8,148.33 1557.3,146.76 1557.8,145.74 1558.3,145.32 1558.8,145.52 1559.3,146.35 1559.8,147.74 1560.3,149.62 1562.8,162.2 1563.8,166.14 1564.3,167.39 1564.8,168.06 1565.3,168.11 1565.8,167.55 1566.3,166.39 1566.8,164.72 1567.8,160.2 1569.3,152.41 1570.3,148.18 1570.8,146.72 1571.3,145.81 1571.8,145.5 1572.3,145.8 1572.8,146.7 1573.3,148.15 1574.3,152.34 1575.8,160.04 1576.8,164.5 1577.3,166.15 1577.8,167.29 1578.3,167.85 1578.8,167.8 1579.3,167.15 1579.8,165.94 1580.8,162.1 1583.3,149.88 1583.8,148.06 1584.3,146.71 1584.8,145.9 1585.3,145.69 1585.8,146.09 1586.3,147.06 1586.8,148.55 1587.8,152.77 1589.3,160.32 1590.3,164.6 1590.8,166.14 1591.3,167.16 1591.8,167.62 1592.3,167.48 1592.8,166.75 1593.3,165.47 1593.8,163.72 1596.3,151.78 1597.3,147.95 1597.8,146.71 1598.3,146.02 1598.8,145.91 1599.3,146.38 1599.8,147.42 1600.3,148.96 1601.3,153.19 1602.8,160.59 1603.8,164.67 1604.3,166.1 1604.8,167.02 1605.3,167.37 1605.8,167.14 1606.3,166.34 1606.8,165.01 1607.8,161.09 1609.3,153.79 1610.3,149.48 1610.8,147.87 1611.3,146.74 1611.8,146.15 1612.3,146.13 1612.8,146.69 1613.3,147.79 1614.3,151.35 1616.3,160.83 1617.3,164.72 1617.8,166.04 1618.3,166.86 1618.8,167.11 1619.3,166.79 1619.8,165.92 1620.3,164.54 1621.3,160.6 1622.8,153.44 1623.8,149.32 1624.3,147.81 1624.8,146.78 1625.3,146.3 1625.8,146.37 1626.3,147 1626.8,148.16 1627.8,151.76 1630.3,163.08 1630.8,164.75 1631.3,165.97 1631.8,166.68 1632.3,166.83 1632.8,166.43 1633.3,165.5 1633.8,164.08 1634.8,160.12 1636.3,153.11 1637.3,149.18 1637.8,147.77 1638.3,146.85 1638.8,146.46 1639.3,146.62 1639.8,147.33 1640.3,148.53 1640.8,150.18 1643.3,161.26 1644.3,164.75 1644.8,165.87 1645.3,166.48 1645.8,166.54 1646.3,166.07 1646.8,165.07 1647.3,163.62 1648.3,159.66 1649.8,152.8 1650.8,149.06 1651.3,147.76 1651.8,146.93 1652.3,146.64 1652.8,146.88 1653.3,147.65 1653.8,148.91 1654.8,152.57 1656.3,159.33 1657.3,163.27 1657.8,164.74 1658.3,165.75 1658.8,166.26 1659.3,166.24 1659.8,165.69 1660.3,164.64 1661.3,161.31 1663.8,150.58 1664.3,148.96 1664.8,147.76 1665.3,147.04 1665.8,146.83 1666.3,147.15 1666.8,147.99 1667.3,149.28 1668.3,152.95 1669.8,159.57 1670.8,163.33 1671.3,164.7 1671.8,165.62 1672.3,166.03 1672.8,165.93 1673.3,165.31 1673.8,164.21 1674.8,160.84 1677.3,150.4 1677.8,148.88 1678.3,147.78 1678.8,147.15 1679.3,147.04 1679.8,147.44 1680.3,148.32 1680.8,149.66 1681.8,153.33 1683.3,159.79 1684.3,163.38 1684.8,164.64 1685.3,165.46 1685.8,165.79 1686.3,165.6 1686.8,164.92 1687.3,163.6 1689.3,156.38 1690.3,153.41 1690.8,152.35 1691.3,151.62 1691.8,151.24 1692.3,151.19 1692.8,151.45 1693.3,151.97 1693.8,152.72 1695.8,156.64 1696.8,158.38 1697.8,159.53 1698.3,159.84 1698.8,159.96 1699.3,159.92 1700.3,159.39 1702.8,156.95 1703.8,156.15 1704.8,155.68 1705.3,155.59 1705.8,155.59 1706.8,155.83 1709.8,157.41 1710.8,157.81 1712.3,158.04 1713.8,157.86 1715.8,157.31 1717.8,157.13 1724.8,157.32 1799.3,157.3" stroke="#e8281e" stroke-width="2.0" fill="none" stroke-linejoin="round" stroke-linecap="round"/>
<path d="M1040.8,250 L1367.1,250 1368.6,249.86 1370.35,249.41 1371.1,249.1 1371.85,248.38 1372.6,247.28 1373.6,245.36 1375.85,239.96 1376.6,237.47 1377.35,234.5 1381.6,215.51 1385.6,195.27 1387.6,184.07 1391.35,162.01 1393.35,148.41 1394.1,144.08 1394.85,141.31 1395.85,139.4 1396.35,138.83 1396.6,138.71 1397.1,138.78 1397.6,139.07 1398.35,139.79 1400.35,142.12 1400.85,142.5 1401.35,142.69 1402.1,142.62 1402.85,142.34 1403.85,141.74 1406.6,139.79 1407.35,139.45 1408.1,139.3 1408.85,139.36 1409.6,139.55 1413.35,141.25 1415.1,141.68 1418.6,142.17 1424.3,142.4 1425.3,145.24 1425.8,147.15 1426.3,149.61 1428.3,161.9 1429.3,167.17 1429.8,169.05 1430.3,170.28 1430.8,170.79 1431.3,170.55 1431.8,169.59 1432.3,167.95 1432.8,165.72 1435.3,150.76 1436.3,146.05 1436.8,144.55 1437.3,143.74 1437.8,143.65 1438.3,144.31 1438.8,145.66 1439.3,147.63 1440.3,152.99 1441.8,162.25 1442.8,167.3 1443.3,169.05 1443.8,170.15 1444.3,170.54 1444.8,170.19 1445.3,169.13 1445.8,167.42 1446.8,162.44 1448.3,153.25 1449.3,147.9 1449.8,145.92 1450.3,144.55 1450.8,143.86 1451.3,143.9 1451.8,144.65 1452.3,146.09 1453.3,150.63 1455.8,165.22 1456.3,167.41 1456.8,169.03 1457.3,170 1457.8,170.27 1458.3,169.81 1458.8,168.66 1459.3,166.88 1460.3,161.85 1461.8,152.81 1462.8,147.68 1463.3,145.81 1463.8,144.57 1464.3,144.01 1464.8,144.16 1465.3,145.01 1465.8,146.52 1466.3,148.6 1468.8,162.89 1469.8,167.49 1470.3,168.99 1470.8,169.83 1471.3,169.98 1471.8,169.42 1472.3,168.19 1472.8,166.35 1473.8,161.28 1475.3,152.39 1476.3,147.47 1476.8,145.73 1477.3,144.61 1477.8,144.17 1478.3,144.43 1478.8,145.38 1479.3,146.96 1480.3,151.64 1482.3,163.17 1483.3,167.55 1483.8,168.92 1484.3,169.64 1484.8,169.67 1485.3,169.02 1485.8,167.7 1486.3,165.81 1487.3,160.72 1488.8,152 1489.8,147.29 1490.3,145.68 1490.8,144.68 1491.3,144.36 1491.8,144.72 1492.3,145.76 1492.8,147.4 1493.8,152.13 1495.3,160.77 1496.3,165.75 1496.8,167.58 1497.3,168.83 1497.8,169.43 1498.3,169.35 1498.8,168.6 1499.3,167.21 1500.3,162.88 1502.8,149.17 1503.3,147.14 1503.8,145.64 1504.3,144.77 1504.8,144.56 1505.3,145.03 1505.8,146.14 1506.3,147.84 1507.3,152.61 1508.8,161.1 1509.8,165.87 1510.3,167.59 1510.8,168.72 1511.3,169.2 1511.8,169.02 1512.3,168.17 1512.8,166.72 1513.3,164.73 1515.8,151.28 1516.8,147.01 1517.3,145.63 1517.8,144.88 1518.3,144.78 1518.8,145.34 1519.3,146.53 1519.8,148.29 1520.8,153.08 1522.3,161.41 1523.3,165.98 1523.8,167.57 1524.3,168.58 1524.8,168.95 1525.3,168.67 1525.8,167.74 1526.3,166.22 1527.3,161.78 1528.8,153.53 1529.8,148.7 1530.3,146.9 1530.8,145.65 1531.3,145.01 1531.8,145.01 1532.3,145.67 1532.8,146.93 1533.8,150.98 1535.8,161.7 1536.8,166.06 1537.3,167.53 1537.8,168.43 1538.3,168.69 1538.8,168.31 1539.3,167.3 1539.8,165.72 1540.8,161.24 1542.3,153.14 1543.3,148.51 1543.8,146.82 1544.3,145.68 1544.8,145.15 1545.3,145.26 1545.8,146 1546.3,147.33 1547.3,151.44 1549.8,164.24 1550.3,166.11 1550.8,167.47 1551.3,168.25 1551.8,168.41 1552.3,167.93 1552.8,166.85 1553.3,165.22 1554.3,160.71 1555.8,152.76 1556.8,148.33 1557.3,146.76 1557.8,145.74 1558.3,145.32 1558.8,145.52 1559.3,146.35 1559.8,147.74 1560.3,149.62 1562.8,162.2 1563.8,166.14 1564.3,167.39 1564.8,168.06 1565.3,168.11 1565.8,167.55 1566.3,166.39 1566.8,164.72 1567.8,160.2 1569.3,152.41 1570.3,148.18 1570.8,146.72 1571.3,145.81 1571.8,145.5 1572.3,145.8 1572.8,146.7 1573.3,148.15 1574.3,152.34 1575.8,160.04 1576.8,164.5 1577.3,166.15 1577.8,167.29 1578.3,167.85 1578.8,167.8 1579.3,167.15 1579.8,165.94 1580.8,162.1 1583.3,149.88 1583.8,148.06 1584.3,146.71 1584.8,145.9 1585.3,145.69 1585.8,146.09 1586.3,147.06 1586.8,148.55 1587.8,152.77 1589.3,160.32 1590.3,164.6 1590.8,166.14 1591.3,167.16 1591.8,167.62 1592.3,167.48 1592.8,166.75 1593.3,165.47 1593.8,163.72 1596.3,151.78 1597.3,147.95 1597.8,146.71 1598.3,146.02 1598.8,145.91 1599.3,146.38 1599.8,147.42 1600.3,148.96 1601.3,153.19 1602.8,160.59 1603.8,164.67 1604.3,166.1 1604.8,167.02 1605.3,167.37 1605.8,167.14 1606.3,166.34 1606.8,165.01 1607.8,161.09 1609.3,153.79 1610.3,149.48 1610.8,147.87 1611.3,146.74 1611.8,146.15 1612.3,146.13 1612.8,146.69 1613.3,147.79 1614.3,151.35 1616.3,160.83 1617.3,164.72 1617.8,166.04 1618.3,166.86 1618.8,167.11 1619.3,166.79 1619.8,165.92 1620.3,164.54 1621.3,160.6 1622.8,153.44 1623.8,149.32 1624.3,147.81 1624.8,146.78 1625.3,146.3 1625.8,146.37 1626.3,147 1626.8,148.16 1627.8,151.76 1630.3,163.08 1630.8,164.75 1631.3,165.97 1631.8,166.68 1632.3,166.83 1632.8,166.43 1633.3,165.5 1633.8,164.08 1634.8,160.12 1636.3,153.11 1637.3,149.18 1637.8,147.77 1638.3,146.85 1638.8,146.46 1639.3,146.62 1639.8,147.33 1640.3,148.53 1640.8,150.18 1643.3,161.26 1644.3,164.75 1644.8,165.87 1645.3,166.48 1645.8,166.54 1646.3,166.07 1646.8,165.07 1647.3,163.62 1648.3,159.66 1649.8,152.8 1650.8,149.06 1651.3,147.76 1651.8,146.93 1652.3,146.64 1652.8,146.88 1653.3,147.65 1653.8,148.91 1654.8,152.57 1656.3,159.33 1657.3,163.27 1657.8,164.74 1658.3,165.75 1658.8,166.26 1659.3,166.24 1659.8,165.69 1660.3,164.64 1661.3,161.31 1663.8,150.58 1664.3,148.96 1664.8,147.76 1665.3,147.04 1665.8,146.83 1666.3,147.15 1666.8,147.99 1667.3,149.28 1668.3,152.95 1669.8,159.57 1670.8,163.33 1671.3,164.7 1671.8,165.62 1672.3,166.03 1672.8,165.93 1673.3,165.31 1673.8,164.21 1674.8,160.84 1677.3,150.4 1677.8,148.88 1678.3,147.78 1678.8,147.15 1679.3,147.04 1679.8,147.44 1680.3,148.32 1680.8,149.66 1681.8,153.33 1683.3,159.79 1684.3,163.38 1684.8,164.64 1685.3,165.46 1685.8,165.79 1686.3,165.6 1686.8,164.92 1687.3,163.6 1689.3,156.38 1690.3,153.41 1690.8,152.35 1691.3,151.62 1691.8,151.24 1692.3,151.19 1692.8,151.45 1693.3,151.97 1693.8,152.72 1695.8,156.64 1696.8,158.38 1697.8,159.53 1698.3,159.84 1698.8,159.96 1699.3,159.92 1700.3,159.39 1702.8,156.95 1703.8,156.15 1704.8,155.68 1705.3,155.59 1705.8,155.59 1706.8,155.83 1709.8,157.41 1710.8,157.81 1712.3,158.04 1713.8,157.86 1715.8,157.31 1717.8,157.13 1724.8,157.32 1799.3,157.3" stroke="#1e3af5" stroke-width="2.35" fill="none" stroke-linejoin="round" stroke-linecap="round"/>
</svg>
<rect x="1546.4" y="53.5" width="239.8" height="49.9" fill="#fff" stroke="#8a8a8a" stroke-width="1.1"/>
<path d="M1550.3,67.1H1578.3" stroke="#e8281e" stroke-width="2.0" fill="none"/>
<text x="1581.2" y="74.52" font-size="18.1" fill="#141414">Drain Current of M1 (Id1)</text>
<path d="M1550.3,91H1578.3" stroke="#1e3af5" stroke-width="2.0" fill="none"/>
<text x="1581.2" y="98.42" font-size="18.1" fill="#141414">Drain Current of M2 (Id2)</text>
<path d="M1076.9,382.3V642.3 M1157.25,382.3V642.3 M1237.6,382.3V642.3 M1317.95,382.3V642.3 M1398.3,382.3V642.3 M1478.65,382.3V642.3 M1559,382.3V642.3 M1639.35,382.3V642.3 M1719.7,382.3V642.3" stroke="#000" stroke-opacity="0.17" stroke-width="1.1" fill="none"/>
<path d="M1041,425.63H1799.4 M1041,468.97H1799.4 M1041,512.3H1799.4 M1041,555.63H1799.4 M1041,598.97H1799.4" stroke="#000" stroke-opacity="0.17" stroke-width="1.1" fill="none"/>
<path d="M1076.9,642.3v-7.2M1076.9,382.3v7.2 M1157.25,642.3v-7.2M1157.25,382.3v7.2 M1237.6,642.3v-7.2M1237.6,382.3v7.2 M1317.95,642.3v-7.2M1317.95,382.3v7.2 M1398.3,642.3v-7.2M1398.3,382.3v7.2 M1478.65,642.3v-7.2M1478.65,382.3v7.2 M1559,642.3v-7.2M1559,382.3v7.2 M1639.35,642.3v-7.2M1639.35,382.3v7.2 M1719.7,642.3v-7.2M1719.7,382.3v7.2 M1041,382.3h7.2M1799.4,382.3h-7.2 M1041,425.63h7.2M1799.4,425.63h-7.2 M1041,468.97h7.2M1799.4,468.97h-7.2 M1041,512.3h7.2M1799.4,512.3h-7.2 M1041,555.63h7.2M1799.4,555.63h-7.2 M1041,598.97h7.2M1799.4,598.97h-7.2 M1041,642.3h7.2M1799.4,642.3h-7.2" stroke="#8a8a8a" stroke-width="1.1" fill="none"/>
<rect x="1041" y="382.3" width="758.4" height="260" stroke="#b0b0b0" stroke-width="1.6" fill="none"/>
<text transform="translate(1076.2,670.7) scale(1,1.05)" text-anchor="middle" font-size="20.5">1,519.85</text>
<text transform="translate(1158.15,670.7) scale(1,1.05)" text-anchor="middle" font-size="20.5">1,519.9</text>
<text transform="translate(1239.6,670.7) scale(1,1.05)" text-anchor="middle" font-size="20.5">1,519.95</text>
<text transform="translate(1317.95,670.7) scale(1,1.05)" text-anchor="middle" font-size="20.5">1,520</text>
<text transform="translate(1398.2,670.7) scale(1,1.05)" text-anchor="middle" font-size="20.5">1,520.05</text>
<text transform="translate(1480.35,670.7) scale(1,1.05)" text-anchor="middle" font-size="20.5">1,520.1</text>
<text transform="translate(1561.8,670.7) scale(1,1.05)" text-anchor="middle" font-size="20.5">1,520.15</text>
<text transform="translate(1643.25,670.7) scale(1,1.05)" text-anchor="middle" font-size="20.5">1,520.2</text>
<text transform="translate(1725.2,670.7) scale(1,1.05)" text-anchor="middle" font-size="20.5">1,520.25</text>
<text transform="translate(1033.2,390.9) scale(1,1.05)" text-anchor="end" font-size="20.5">10000</text>
<text transform="translate(1033.2,434.23) scale(1,1.05)" text-anchor="end" font-size="20.5">8000</text>
<text transform="translate(1033.2,477.57) scale(1,1.05)" text-anchor="end" font-size="20.5">6000</text>
<text transform="translate(1033.2,520.9) scale(1,1.05)" text-anchor="end" font-size="20.5">4000</text>
<text transform="translate(1033.2,564.23) scale(1,1.05)" text-anchor="end" font-size="20.5">2000</text>
<text transform="translate(1033.2,607.57) scale(1,1.05)" text-anchor="end" font-size="20.5">0</text>
<text transform="translate(1033.2,650.9) scale(1,1.05)" text-anchor="end" font-size="20.5">2000</text>
<text x="968.1" y="651.8" textLength="19.3" lengthAdjust="spacingAndGlyphs" font-size="20.5">−</text>
<text x="1420.2" y="699.15" text-anchor="middle" font-size="22.6">Time (µs)</text>
<text transform="translate(968.9,512.3) rotate(-90) scale(1,1.02)" x="0" y="0" text-anchor="middle" font-size="22.6">Power Loss (W)</text>
<svg x="1041.0" y="382.3" width="758.4000000000001" height="259.99999999999994" viewBox="1041.0 382.3 758.4000000000001 259.99999999999994" overflow="hidden">
<path d="M1041,599 L1367.2,599 1367.95,598.88 1369.2,598.18 1370.7,596.73 1372.45,594.48 1373.2,592.95 1373.95,590.79 1374.95,587.2 1378.45,572.41 1379.95,565.29 1381.45,557.49 1382.95,549.18 1384.45,540.1 1387.95,516.65 1390.45,496.96 1391.45,490.3 1392.95,483.06 1393.95,478.8 1394.45,477.1 1394.95,475.82 1395.45,475.06 1395.7,474.91 1395.95,474.95 1396.2,475.22 1396.45,475.71 1396.95,477.23 1398.95,485.72 1403.45,501.34 1407.2,514.91 1412.2,534.27 1416.7,553.1 1418.7,562.28 1420.45,571.82 1422.2,583.25 1424.3,599 1799.4,599" stroke="#e8281e" stroke-width="2.5" fill="none" stroke-linejoin="round" stroke-linecap="round"/>
<path d="M1041,599 L1368,599 1368.75,598.88 1370,598.18 1371.5,596.73 1373.25,594.48 1374,592.95 1374.75,590.79 1375.75,587.2 1379.5,571.28 1381,564.03 1382.5,556.14 1385.25,540.1 1388.75,516.65 1391.25,497.35 1392.25,490.5 1394.5,478.14 1395.25,475.55 1395.5,475.1 1395.75,474.91 1396,474.98 1396.25,475.3 1397,477.41 1399,485.9 1403.5,501.51 1407.25,515.1 1412.25,534.47 1416.75,553.32 1418.75,562.53 1420.5,572.12 1422.25,583.6 1424.3,599 1799.4,599" stroke="#1e3af5" stroke-width="2.85" fill="none" stroke-linejoin="round" stroke-linecap="round"/>
</svg>
<rect x="1602.2" y="395.5" width="184" height="49.3" fill="#fff" stroke="#8a8a8a" stroke-width="1.1"/>
<path d="M1606,408.2H1633.6" stroke="#e8281e" stroke-width="2.6" fill="none"/>
<text x="1636.9" y="415.62" font-size="18.1" fill="#141414">Power Loss of M1</text>
<path d="M1606,431.6H1633.6" stroke="#1e3af5" stroke-width="2.6" fill="none"/>
<text x="1636.9" y="439.02" font-size="18.1" fill="#141414">Power Loss of M2</text>
<path d="M1074.1,732V977.7 M1154.89,732V977.7 M1235.68,732V977.7 M1316.47,732V977.7 M1397.26,732V977.7 M1478.05,732V977.7 M1558.84,732V977.7 M1639.63,732V977.7 M1720.42,732V977.7" stroke="#000" stroke-opacity="0.17" stroke-width="1.1" fill="none"/>
<path d="M1038.3,793.42H1798.2 M1038.3,854.85H1798.2 M1038.3,916.28H1798.2" stroke="#000" stroke-opacity="0.17" stroke-width="1.1" fill="none"/>
<path d="M1074.1,977.7v-7.2M1074.1,732v7.2 M1154.89,977.7v-7.2M1154.89,732v7.2 M1235.68,977.7v-7.2M1235.68,732v7.2 M1316.47,977.7v-7.2M1316.47,732v7.2 M1397.26,977.7v-7.2M1397.26,732v7.2 M1478.05,977.7v-7.2M1478.05,732v7.2 M1558.84,977.7v-7.2M1558.84,732v7.2 M1639.63,977.7v-7.2M1639.63,732v7.2 M1720.42,977.7v-7.2M1720.42,732v7.2 M1038.3,732h7.2M1798.2,732h-7.2 M1038.3,793.42h7.2M1798.2,793.42h-7.2 M1038.3,854.85h7.2M1798.2,854.85h-7.2 M1038.3,916.28h7.2M1798.2,916.28h-7.2 M1038.3,977.7h7.2M1798.2,977.7h-7.2" stroke="#8a8a8a" stroke-width="1.1" fill="none"/>
<rect x="1038.3" y="732" width="759.9" height="245.7" stroke="#b0b0b0" stroke-width="1.6" fill="none"/>
<text transform="translate(1076.2,1006.1) scale(1,1.05)" text-anchor="middle" font-size="20.5">1,519.85</text>
<text transform="translate(1157.99,1006.1) scale(1,1.05)" text-anchor="middle" font-size="20.5">1,519.9</text>
<text transform="translate(1239.58,1006.1) scale(1,1.05)" text-anchor="middle" font-size="20.5">1,519.95</text>
<text transform="translate(1317.97,1006.1) scale(1,1.05)" text-anchor="middle" font-size="20.5">1,520</text>
<text transform="translate(1398.16,1006.1) scale(1,1.05)" text-anchor="middle" font-size="20.5">1,520.05</text>
<text transform="translate(1480.35,1006.1) scale(1,1.05)" text-anchor="middle" font-size="20.5">1,520.1</text>
<text transform="translate(1561.84,1006.1) scale(1,1.05)" text-anchor="middle" font-size="20.5">1,520.15</text>
<text transform="translate(1643.33,1006.1) scale(1,1.05)" text-anchor="middle" font-size="20.5">1,520.2</text>
<text transform="translate(1725.22,1006.1) scale(1,1.05)" text-anchor="middle" font-size="20.5">1,520.25</text>
<text transform="translate(1030.5,740.6) scale(1,1.05)" text-anchor="end" font-size="20.5">3</text>
<text transform="translate(1030.5,802.02) scale(1,1.05)" text-anchor="end" font-size="20.5">2</text>
<text transform="translate(1030.5,863.45) scale(1,1.05)" text-anchor="end" font-size="20.5">1</text>
<text transform="translate(1030.5,924.88) scale(1,1.05)" text-anchor="end" font-size="20.5">0</text>
<text transform="translate(1030.5,986.3) scale(1,1.05)" text-anchor="end" font-size="20.5">1</text>
<text x="999.6" y="987.2" textLength="19.3" lengthAdjust="spacingAndGlyphs" font-size="20.5">−</text>
<text x="1418.25" y="1034.15" text-anchor="middle" font-size="22.6">Time (µs)</text>
<text transform="translate(1004.6,854.85) rotate(-90) scale(1,1.02)" x="0" y="0" text-anchor="middle" font-size="22.6">Gate Current (A)</text>
<svg x="1038.3" y="732.0" width="759.9000000000001" height="245.70000000000005" viewBox="1038.3 732.0 759.9000000000001 245.70000000000005" overflow="hidden">
<path d="M1038.3,916.28 L1324.8,916.28 1324.8,749 1325.15,777.77 1325.85,820.24 1326.55,848.37 1326.9,858.65 1327.6,873.82 1327.95,879.36 1328.65,887.54 1329.35,892.96 1330.05,896.55 1330.75,898.93 1331.1,899.8 1331.8,901.08 1332.85,902.24 1333.55,902.7 1334.25,903 1335.3,903.28 1336.35,903.43 1340,903.6 1394,903.6 1394.75,903.47 1397,902.43 1398,902.2 1408,902.05 1420,902 1422,902.15 1425.75,902.78 1427.5,902.98 1439.5,903.26 1465,903.57 1504.25,903.61 1505.5,903.75 1507,904.07 1512,905.64 1521,908.14 1524.5,909.02 1534,911.03 1543.25,912.57 1551.75,913.79 1558.75,914.53 1570.5,915.3 1582.25,915.78 1597.25,916.15 1608.25,916.27 1798.2,916.28" stroke="#e8281e" stroke-width="1.8" fill="none" stroke-linejoin="round" stroke-linecap="round"/>
<path d="M1038.3,916.28 L1324.8,916.28 1324.8,768.1 1325.15,794.72 1325.85,833.3 1326.55,858.21 1326.9,867.13 1327.6,880.05 1327.95,884.68 1328.65,891.38 1329,893.78 1329.7,897.26 1330.4,899.51 1330.75,900.31 1331.45,901.48 1332.5,902.5 1333.2,902.89 1333.9,903.14 1336,903.48 1340,903.6 1394,903.6 1394.75,903.47 1397,902.43 1398,902.2 1408,902.05 1420,902 1422,902.15 1427.25,902.96 1434.25,903.16 1459,903.53 1491,903.61 1492.25,903.81 1493.75,904.29 1503.75,908.48 1506.5,909.51 1513.25,911.43 1519,912.71 1525.5,913.63 1533.5,914.41 1546.75,915.28 1557.75,915.75 1577,916.13 1592.75,916.27 1798.2,916.28" stroke="#1e3af5" stroke-width="2.0" fill="none" stroke-linejoin="round" stroke-linecap="round"/>
</svg>
<rect x="1615.4" y="742.3" width="168.7" height="43.4" fill="#fff" stroke="#8a8a8a" stroke-width="1.1"/>
<path d="M1619.8,754H1647" stroke="#e8281e" stroke-width="2.0" fill="none"/>
<text x="1651" y="760.28" font-size="14.95" fill="#141414">Gate Current of M1</text>
<path d="M1619.8,773.7H1647" stroke="#1e3af5" stroke-width="2.0" fill="none"/>
<text x="1651" y="779.98" font-size="14.95" fill="#141414">Gate Current of M2</text>
<text transform="translate(463.2,1120.2) scale(0.915,1)" text-anchor="middle" font-family='"Liberation Serif", "Times New Roman", serif' font-size="45" fill="#000" stroke="#fff" stroke-width="0.8">(<tspan font-weight="bold" stroke="none">a</tspan>)</text>
<text transform="translate(1377.4,1120.2) scale(0.97,1)" text-anchor="middle" font-family='"Liberation Serif", "Times New Roman", serif' font-size="45" fill="#000" stroke="#fff" stroke-width="0.8">(<tspan font-weight="bold" stroke="none">b</tspan>)</text>
</svg>
</body></html>
